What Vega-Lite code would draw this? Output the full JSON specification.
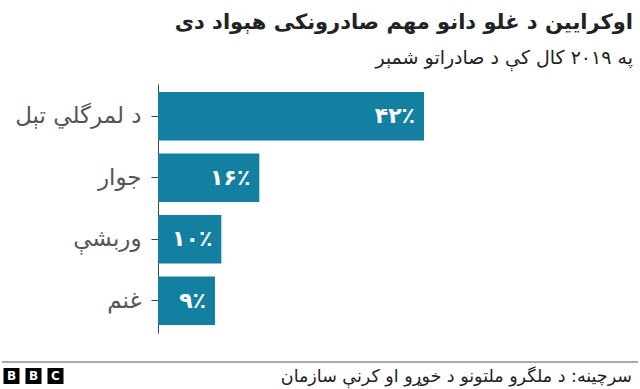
{
  "$schema": "https://vega.github.io/schema/vega-lite/v6.json",
  "autosize": "none",
  "width": 475,
  "height": 249,
  "padding": {"left": 158, "top": 84, "right": 7, "bottom": 56},
  "background": "white",
  "config": {
    "view": {"stroke": null},
    "font": "DejaVu Sans"
  },
  "title": {
    "text": "اوکرایین د غلو دانو مهم صادرونکی هېواد دی",
    "subtitle": "په ۲۰۱۹ کال کې د صادراتو شمېر",
    "anchor": "end",
    "align": "right",
    "frame": "group",
    "font": "DejaVu Sans",
    "fontSize": 21,
    "fontWeight": "bold",
    "color": "#222222",
    "subtitleFont": "DejaVu Sans",
    "subtitleFontSize": 19,
    "subtitleColor": "#222222",
    "subtitlePadding": 16,
    "offset": 16
  },
  "layer": [
    {
      "data": {
        "values": [
          {"crop": "د لمرگلي تېل", "value": 42, "label": "۴۲٪"},
          {"crop": "جوار", "value": 16, "label": "۱۶٪"},
          {"crop": "وربشې", "value": 10, "label": "۱۰٪"},
          {"crop": "غنم", "value": 9, "label": "۹٪"}
        ]
      },
      "encoding": {
        "y": {
          "field": "crop",
          "type": "nominal",
          "sort": null,
          "scale": {"paddingInner": 0.21, "paddingOuter": 0.13},
          "axis": {
            "title": null,
            "labelFontSize": 23,
            "labelColor": "#555555",
            "labelFont": "DejaVu Sans",
            "labelPadding": 10,
            "tickSize": 7,
            "tickColor": "#444444",
            "domainColor": "#444444"
          }
        },
        "x": {
          "field": "value",
          "type": "quantitative",
          "scale": {"domain": [0, 75]},
          "axis": null
        }
      },
      "layer": [
        {"mark": {"type": "bar", "color": "#1380A1"}},
        {
          "mark": {"type": "text", "align": "right", "baseline": "middle", "dx": -9, "color": "white", "fontSize": 22, "fontWeight": "bold", "font": "DejaVu Sans"},
          "encoding": {"text": {"field": "label"}}
        }
      ]
    },
    {
      "data": {"values": [{"source": "سرچینه: د ملگرو ملتونو د خوړو او کرنې سازمان"}]},
      "layer": [
        {
          "mark": {"type": "rule", "color": "#555555", "strokeWidth": 1},
          "encoding": {"x": {"value": -156}, "x2": {"value": 480}, "y": {"value": 278}}
        },
        {
          "mark": {"type": "text", "align": "right", "baseline": "middle", "fontSize": 17.5, "color": "#222222", "font": "DejaVu Sans"},
          "encoding": {"text": {"field": "source"}, "x": {"value": 474}, "y": {"value": 293}}
        }
      ]
    },
    {
      "data": {"values": [{"letter": "B", "pos": 1}, {"letter": "B", "pos": 2}, {"letter": "C", "pos": 3}]},
      "encoding": {
        "x": {"field": "pos", "type": "quantitative", "scale": {"domain": [1, 3], "range": [-146.5, -102.5], "zero": false, "nice": false}, "axis": null},
        "y": {"value": 292}
      },
      "layer": [
        {"mark": {"type": "square", "filled": true, "color": "black", "size": 256, "opacity": 1}},
        {
          "mark": {"type": "text", "color": "white", "fontWeight": "bold", "fontSize": 12, "align": "center", "baseline": "middle", "font": "DejaVu Sans"},
          "encoding": {"text": {"field": "letter"}}
        }
      ]
    }
  ],
  "resolve": {"scale": {"x": "independent"}}
}
